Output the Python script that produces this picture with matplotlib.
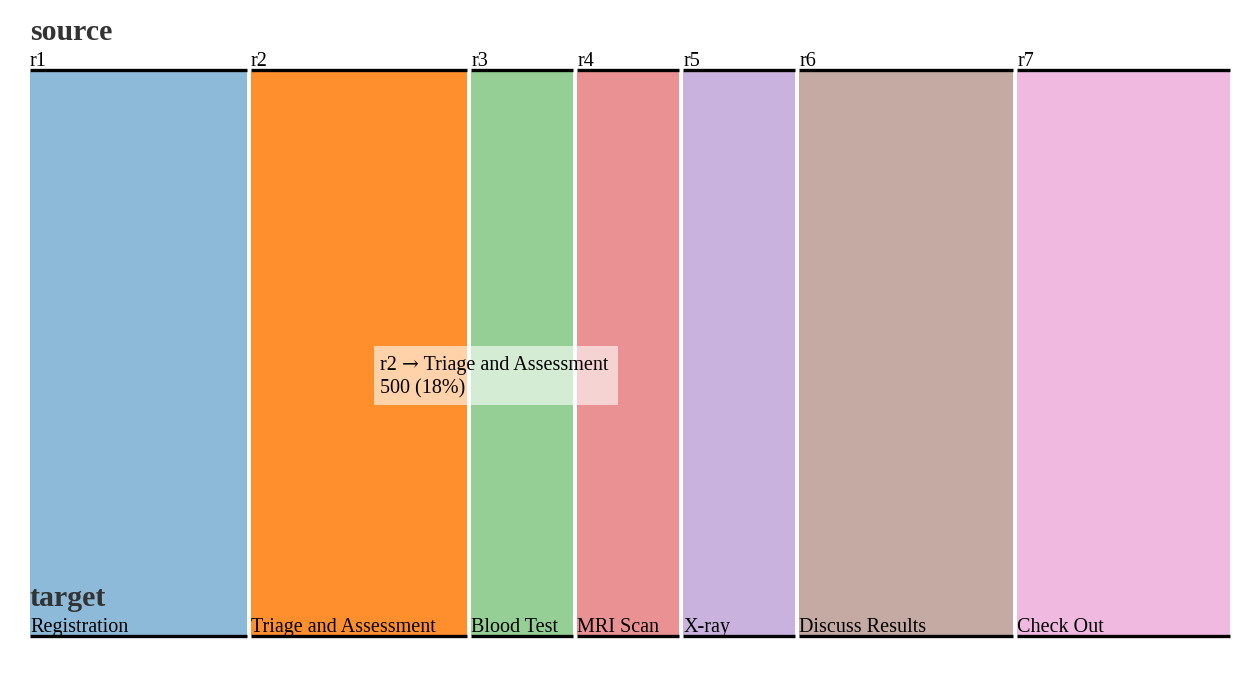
import matplotlib
matplotlib.use("Agg")
import matplotlib.pyplot as plt
from matplotlib.patches import Rectangle

sources = ["r1", "r2", "r3", "r4", "r5", "r6", "r7"]
targets = ["Registration", "Triage and Assessment", "Blood Test", "MRI Scan",
           "X-ray", "Discuss Results", "Check Out"]
values = [500, 500, 236, 235, 259, 494, 491]
colors = ["#1f77b4", "#ff7f0e", "#2ca02c", "#d62728", "#9467bd", "#8c564b", "#e377c2"]
highlight = 1  # hovered ribbon (r2)

W, H = 1259, 688
fig = plt.figure(figsize=(W / 100, H / 100), dpi=100)
ax = fig.add_axes([0, 0, 1, 1])
ax.set_xlim(0, W)
ax.set_ylim(H, 0)
ax.axis("off")

left, right = 30, 1230
gap = 4
top, bottom = 70, 636
total = sum(values)
scale = (right - left - gap * (len(values) - 1)) / total

serif = ["Liberation Serif", "DejaVu Serif"]
fs = 14.5

x = left
for i, (s, t, v, c) in enumerate(zip(sources, targets, values, colors)):
    w = v * scale
    alpha = 0.87 if i == highlight else 0.5
    ax.add_patch(Rectangle((x, top + 1.5), w, bottom - top - 3, facecolor=c,
                           alpha=alpha, edgecolor="none", zorder=1))
    ax.plot([x, x + w], [top, top], color="black", lw=2.4, solid_capstyle="butt", zorder=3)
    ax.plot([x, x + w], [bottom, bottom], color="black", lw=2.4, solid_capstyle="butt", zorder=3)
    ax.text(x, top - 4, s, fontsize=fs, family=serif, ha="left", va="baseline", zorder=4)
    ax.text(x, bottom - 4, t, fontsize=fs, family=serif, ha="left", va="baseline", zorder=4)
    x += w + gap

ax.text(left, 40, "source", fontsize=21.5, fontweight="bold", family=serif,
        color="#333333", ha="left", va="baseline")
ax.text(left, 606, "target", fontsize=21.5, fontweight="bold", family=serif,
        color="#333333", ha="left", va="baseline")

# tooltip
pct = round(100 * values[highlight] / total)
ax.add_patch(Rectangle((374, 346), 244, 59, facecolor="white", alpha=0.6,
                       edgecolor="none", zorder=5))
renderer = fig.canvas.get_renderer()
parts = [(f"{sources[highlight]} ", serif), ("\u2192", ["DejaVu Serif"]),
         (f" {targets[highlight]}", serif)]
px = 380
for txt, fam in parts:
    tt = ax.text(px, 370, txt, fontsize=fs, family=fam, ha="left", va="baseline", zorder=6)
    bb = tt.get_window_extent(renderer=renderer)
    px += bb.width
ax.text(380, 393, f"{values[highlight]} ({pct}%)", fontsize=fs,
        family=serif, ha="left", va="baseline", zorder=6)

fig.savefig("out.png", dpi=100)
